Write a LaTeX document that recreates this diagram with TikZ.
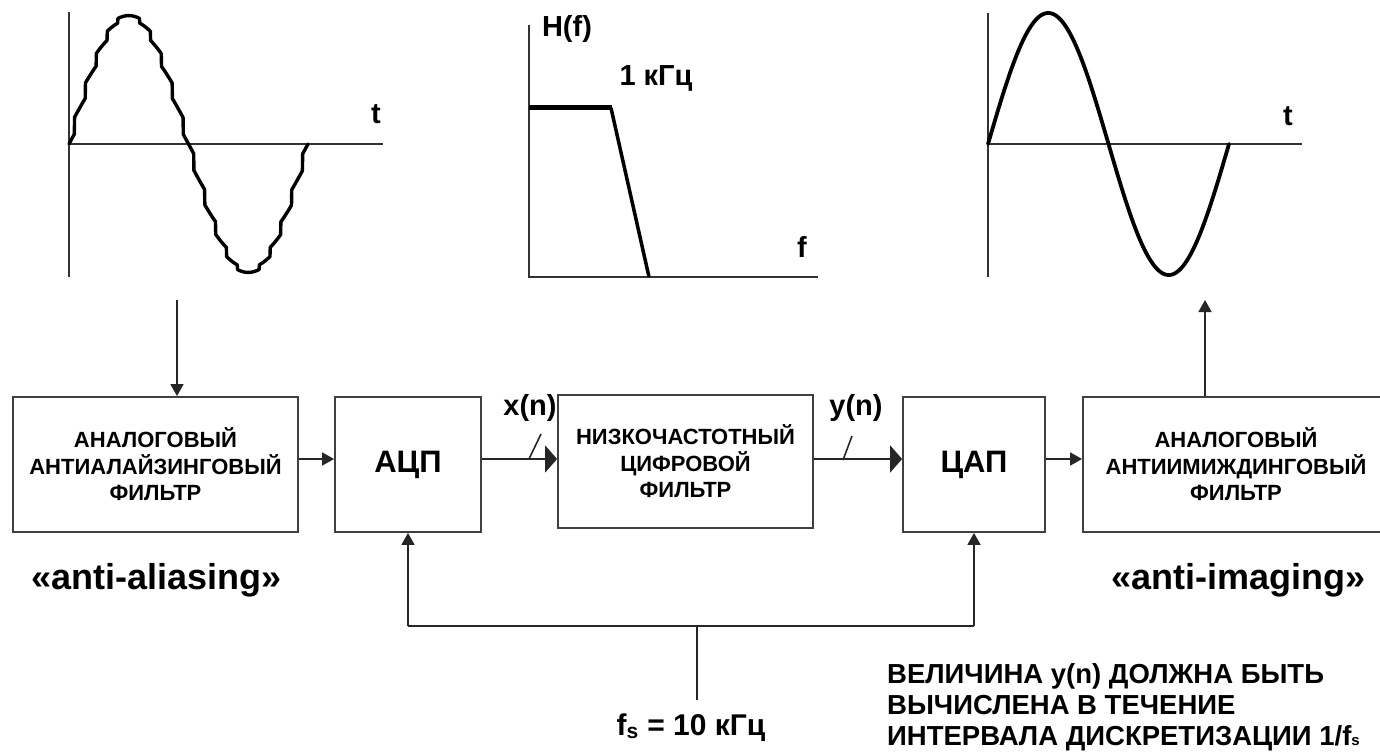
\documentclass[tikz,border=0pt]{standalone}
\usepackage{fontspec}
\setmainfont{Liberation Sans}
\usetikzlibrary{arrows.meta,calc}
\begin{document}
\begin{tikzpicture}[x=1pt,y=-1pt,
  conn/.style={draw=black!85, line width=1.6pt},
  blk/.style={draw=black!75, line width=1.8pt, rectangle, inner sep=0pt, align=center, font=\fontsize{22}{26.5}\selectfont\bfseries},
  bigtxt/.style={font=\fontsize{31}{36}\selectfont\bfseries},
  lbl/.style={font=\fontsize{29}{34}\selectfont\bfseries, inner sep=0pt},
  arrS/.style={conn, -{Triangle[length=12pt,width=13pt]}},
  arrB/.style={conn, -{Triangle[length=12pt,width=27pt]}},
  axl/.style={draw=black!80, line width=1.5pt},
  wave/.style={draw=black, line width=3.8pt, line join=round, line cap=round},
  note/.style={font=\fontsize{27.5}{32}\selectfont\bfseries, inner sep=0pt, anchor=base west},
]
\useasboundingbox (0,0) rectangle (1380,754);

% ---- left graph: staircase sine
\draw[axl] (69,12) -- (69,277);
\draw[axl] (69,144) -- (383,144);
\draw[wave, line width=3.4pt] plot[domain=0:239, samples=900] ({69+\x},{144-129*(0.55*sin(1.50628*\x)+0.45*sin(round(1.50628*\x/16.3636)*16.3636))});
\node[lbl] (t1) at (376,114) {t};

% ---- middle graph: H(f)
\draw[axl] (529,25) -- (529,277) -- (818,277);
\draw[draw=black, line width=5pt] (529,108) -- (612,108);
\draw[draw=black, line width=3.5pt, line join=round] (611,108) -- (649,277);
\node[lbl] (hf) at (567,29) {H(f)};
\node[lbl] (khz) at (656,78) {1 кГц};
\node[lbl] (fax) at (802,247) {f};

% ---- right graph: clean sine
\draw[axl] (988,13) -- (988,277);
\draw[axl] (988,144) -- (1302,144);
\draw[wave] plot[domain=0:241, samples=300] ({988+\x},{144-131*sin(1.49378*\x)});
\node[lbl] (t2) at (1288,116) {t};

% ---- blocks
\node[blk, minimum width=285pt, minimum height=135pt] (aaf) at (155.5,464.5) {АНАЛОГОВЫЙ\\АНТИАЛАЙЗИНГОВЫЙ\\ФИЛЬТР};
\node[blk, bigtxt, minimum width=146pt, minimum height=135pt] (adc) at (408,464.5) {АЦП};
\node[blk, minimum width=255pt, minimum height=133pt] (lpf) at (685.5,461.5) {НИЗКОЧАСТОТНЫЙ\\ЦИФРОВОЙ\\ФИЛЬТР};
\node[blk, bigtxt, minimum width=142pt, minimum height=135pt] (dac) at (974,464.5) {ЦАП};
\node[blk, minimum width=306pt, minimum height=135pt] (aif) at (1236,464.5) {АНАЛОГОВЫЙ\\АНТИИМИЖДИНГОВЫЙ\\ФИЛЬТР};

% ---- main row connectors
\coordinate (row) at (0,459);
\draw[arrS] (aaf.east |- row) -- (adc.west |- row);
\draw[arrB] (adc.east |- row) -- (lpf.west |- row);
\draw[arrB] (lpf.east |- row) -- (dac.west |- row);
\draw[arrS] (dac.east |- row) -- (aif.west |- row);
\draw[conn] (529,459) -- (541,434);
\draw[conn] (843,460) -- (852,436);
\node[lbl] (xn) at (530,408) {x(n)};
\node[lbl] (yn) at (856,408) {y(n)};

% ---- graph links
\coordinate (w1) at (177,300);
\draw[arrS] (w1) -- (w1 |- aaf.north);
\coordinate (w2) at (1205,300);
\draw[arrS] (w2 |- aif.north) -- (w2);

% ---- clock feedback
\coordinate (fbL) at (408,626);
\coordinate (fbR) at (974,626);
\coordinate (fsTop) at (697,626);
\coordinate (fsBot) at (697,700);
\draw[conn] (fbL) -- (fbR);
\draw[arrS] (fbL) -- (adc.south);
\draw[arrS] (fbR) -- (dac.south);
\draw[conn] (fsBot) -- (fsTop);
\node[lbl, font=\fontsize{30}{34}\selectfont\bfseries, anchor=base] (fs) at (691,735) {f\textsubscript{s} = 10 кГц};

% ---- captions
\node[font=\fontsize{36}{40}\selectfont\bfseries, inner sep=0pt, anchor=base west] (aa) at (31,589) {«anti-aliasing»};
\node[font=\fontsize{36}{40}\selectfont\bfseries, inner sep=0pt, anchor=base east] (ai) at (1366,589) {«anti-imaging»};

\node[note] (n1) at (887,683) {ВЕЛИЧИНА y(n) ДОЛЖНА БЫТЬ};
\node[note] (n2) at (887,714) {ВЫЧИСЛЕНА В ТЕЧЕНИЕ};
\node[note] (n3) at (887,745) {ИНТЕРВАЛА ДИСКРЕТИЗАЦИИ 1/f{\fontsize{15}{15}\selectfont s}};
\end{tikzpicture}
\end{document}
